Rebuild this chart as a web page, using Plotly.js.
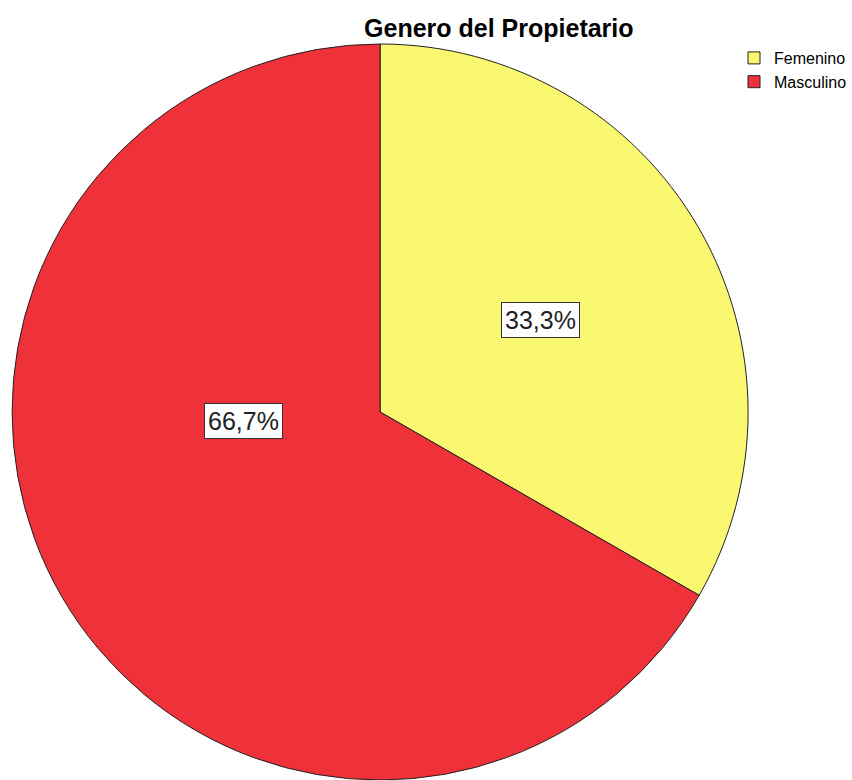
<!DOCTYPE html>
<html>
<head>
<meta charset="utf-8">
<script src="https://cdn.plot.ly/plotly-3.0.1.min.js"></script>
<style>html,body{margin:0;padding:0;background:#fff;}#chart{width:852px;height:780px;}</style>
</head>
<body>
<div id="chart"></div>
<script>
var categories = ["Femenino", "Masculino"];
var values = [33.3, 66.7];
var sliceColors = ["#FAF771", "#EF323A"];
// label box centres in paper fractions (layout only)
var labelX = [0.636, 0.286];
var labelY = [0.590, 0.460];

var total = values.reduce(function(a, b){ return a + b; }, 0);
var fontFam = '"Liberation Sans", Arial, sans-serif';

var annotations = categories.map(function(c, i){
  var pct = (values[i] / total * 100).toFixed(1).replace('.', ',') + '%';
  return {
    text: pct, xref: 'paper', yref: 'paper', x: labelX[i], y: labelY[i],
    xanchor: 'center', yanchor: 'middle', showarrow: false,
    font: {family: fontFam, size: 25, color: '#222'},
    bgcolor: '#ffffff', bordercolor: '#333333', borderwidth: 1, borderpad: 3
  };
});

var trace = {
  type: 'pie',
  labels: categories,
  values: values,
  sort: false,
  direction: 'clockwise',
  rotation: 0,
  textinfo: 'none',
  hoverinfo: 'label+percent',
  marker: {colors: sliceColors, line: {color: '#222222', width: 1}},
  domain: {x: [12/852, 750/852], y: [0, 1 - 44/780]}
};

var layout = {
  width: 852, height: 780,
  margin: {l: 0, r: 0, t: 0, b: 0},
  paper_bgcolor: '#ffffff',
  separators: ',.',
  title: {
    text: '<b>Genero del Propietario</b>',
    font: {family: fontFam, size: 25, color: '#000'},
    x: 500/852, xanchor: 'center', xref: 'paper',
    y: 1 - 28/780, yanchor: 'middle', yref: 'container'
  },
  showlegend: true,
  legend: {
    x: 736/852, xanchor: 'left', y: 1 - 41/780, yanchor: 'top',
    font: {family: fontFam, size: 16, color: '#000'},
    bgcolor: 'rgba(0,0,0,0)', tracegroupgap: 0
  },
  annotations: annotations
};

Plotly.newPlot('chart', [trace], layout, {displayModeBar: false, staticPlot: true});
</script>
</body>
</html>
